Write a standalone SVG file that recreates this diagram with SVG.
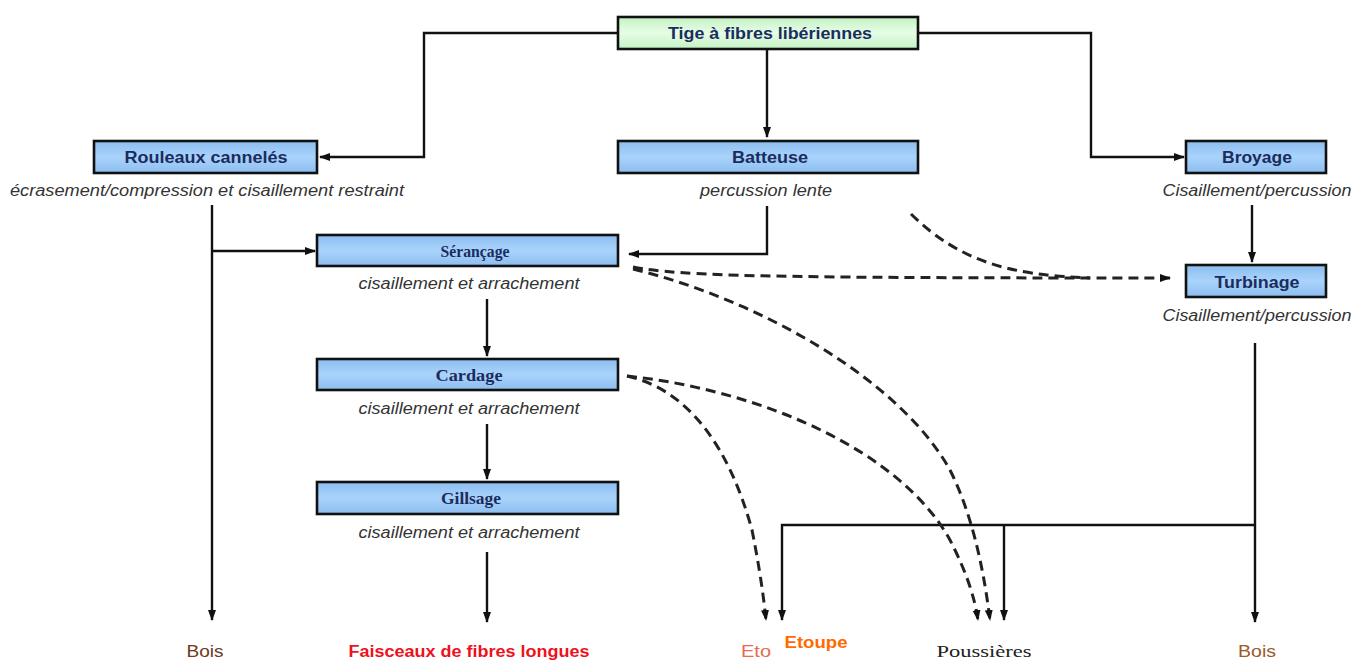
<svg xmlns="http://www.w3.org/2000/svg" width="1365" height="661" viewBox="0 0 1365 661">
<style>
.box{fill:url(#blue);stroke:#111;stroke-width:2.6}
.gbox{fill:url(#green);stroke:#111;stroke-width:2.6}
.lbl{font-family:"Liberation Sans",Arial,sans-serif;font-weight:bold;font-size:16px;fill:#1b2c5e;text-anchor:middle}
.slbl{font-family:"Liberation Serif","Times New Roman",serif;font-weight:bold;font-size:17px;fill:#1b2c5e;text-anchor:middle}
.sub{font-family:"Liberation Sans",Arial,sans-serif;font-style:italic;font-size:16px;fill:#333;text-anchor:middle}
.ln{fill:none;stroke:#111;stroke-width:2.4}
.ds{fill:none;stroke:#222;stroke-width:3;stroke-dasharray:10 6}
.out{font-family:"Liberation Sans",Arial,sans-serif;font-size:16px;text-anchor:middle}
</style>
<defs>
<linearGradient id="blue" x1="0" y1="0" x2="0" y2="1">
<stop offset="0" stop-color="#8cbdf0"/><stop offset="0.5" stop-color="#a9d3fb"/><stop offset="1" stop-color="#8cbdf0"/>
</linearGradient>
<linearGradient id="green" x1="0" y1="0" x2="0" y2="1">
<stop offset="0" stop-color="#c4f2c4"/><stop offset="0.5" stop-color="#e6fde6"/><stop offset="1" stop-color="#c4f2c4"/>
</linearGradient>
<marker id="ah" markerWidth="11" markerHeight="10" refX="10" refY="5" orient="auto" markerUnits="userSpaceOnUse">
<path d="M0,1 L11,5 L0,9 z" fill="#111"/>
</marker>
</defs>
<rect width="1365" height="661" fill="#fff"/>

<g id="connectors">
<polyline class="ln" points="618,33 424,33 424,157 320,157" marker-end="url(#ah)"/>
<line class="ln" x1="767" y1="49" x2="767" y2="137" marker-end="url(#ah)"/>
<polyline class="ln" points="918,33 1091,33 1091,157 1184,157" marker-end="url(#ah)"/>
<polyline class="ln" points="767,206 767,254 629,254" marker-end="url(#ah)"/>
<line class="ln" x1="212" y1="205" x2="212" y2="620" marker-end="url(#ah)"/>
<line class="ln" x1="212" y1="251" x2="315" y2="251" marker-end="url(#ah)"/>
<line class="ln" x1="1252" y1="205" x2="1252" y2="262" marker-end="url(#ah)"/>
<line class="ln" x1="487" y1="299" x2="487" y2="356" marker-end="url(#ah)"/>
<line class="ln" x1="487" y1="424" x2="487" y2="479" marker-end="url(#ah)"/>
<line class="ln" x1="487" y1="552" x2="487" y2="622" marker-end="url(#ah)"/>
<line class="ln" x1="1255" y1="343" x2="1255" y2="622" marker-end="url(#ah)"/>
<polyline class="ln" points="1255,525 782,525 782,620" marker-end="url(#ah)"/>
<line class="ln" x1="1004" y1="525" x2="1004" y2="620" marker-end="url(#ah)"/>
<path class="ds" d="M633,267 C680,276 760,278 1170,278" marker-end="url(#ah)"/>
<path class="ds" d="M911,214 C960,262 1010,275 1090,278"/>
<path class="ds" d="M633,269 C760,300 900,380 950,470 C975,520 985,580 990,620" marker-end="url(#ah)"/>
<path class="ds" d="M627,376 C690,390 730,450 752,530 C760,570 764,600 766,620" marker-end="url(#ah)"/>
<path class="ds" d="M627,376 C760,390 900,450 950,540 C968,575 975,600 978,620" marker-end="url(#ah)"/>
</g>

<g id="n-tige"><rect class="gbox" x="618" y="17" width="300" height="32"/><text class="lbl" x="770" y="39" textLength="204" lengthAdjust="spacingAndGlyphs">Tige à fibres libériennes</text></g>
<g id="n-rouleaux"><rect class="box" x="94" y="141" width="223" height="32"/><text class="lbl" x="206" y="163" textLength="163" lengthAdjust="spacingAndGlyphs">Rouleaux cannelés</text>
<text class="sub" x="207" y="196" textLength="394" lengthAdjust="spacingAndGlyphs">écrasement/compression et cisaillement restraint</text></g>
<g id="n-batteuse"><rect class="box" x="618" y="141" width="300" height="32"/><text class="lbl" x="770" y="163" textLength="76" lengthAdjust="spacingAndGlyphs">Batteuse</text>
<text class="sub" x="766" y="196" textLength="132" lengthAdjust="spacingAndGlyphs">percussion lente</text></g>
<g id="n-broyage"><rect class="box" x="1186" y="141" width="140" height="32"/><text class="lbl" x="1257" y="163" textLength="70" lengthAdjust="spacingAndGlyphs">Broyage</text>
<text class="sub" x="1257" y="196" textLength="189" lengthAdjust="spacingAndGlyphs">Cisaillement/percussion</text></g>
<g id="n-turbinage"><rect class="box" x="1186" y="265" width="140" height="32"/><text class="lbl" x="1257" y="288" textLength="85" lengthAdjust="spacingAndGlyphs">Turbinage</text>
<text class="sub" x="1257" y="321" textLength="189" lengthAdjust="spacingAndGlyphs">Cisaillement/percussion</text></g>
<g id="n-serancage"><rect class="box" x="317" y="235" width="301" height="31"/><text class="slbl" x="475" y="257" textLength="69" lengthAdjust="spacingAndGlyphs">Sérançage</text>
<text class="sub" x="469" y="289" textLength="221" lengthAdjust="spacingAndGlyphs">cisaillement et arrachement</text></g>
<g id="n-cardage"><rect class="box" x="317" y="359" width="301" height="31"/><text class="slbl" x="469" y="381" textLength="67" lengthAdjust="spacingAndGlyphs">Cardage</text>
<text class="sub" x="469" y="414" textLength="221" lengthAdjust="spacingAndGlyphs">cisaillement et arrachement</text></g>
<g id="n-gillsage"><rect class="box" x="317" y="482" width="301" height="32"/><text class="slbl" x="471" y="504" textLength="60" lengthAdjust="spacingAndGlyphs">Gillsage</text>
<text class="sub" x="469" y="538" textLength="221" lengthAdjust="spacingAndGlyphs">cisaillement et arrachement</text></g>

<g id="outputs">
<text class="out" x="205" y="657" fill="#6b3a20" textLength="37" lengthAdjust="spacingAndGlyphs">Bois</text>
<text class="out" x="469" y="657" fill="#ee1122" font-weight="bold" textLength="241" lengthAdjust="spacingAndGlyphs">Faisceaux de fibres longues</text>
<text class="out" x="756" y="657" fill="#e86a50" textLength="30" lengthAdjust="spacingAndGlyphs">Eto</text>
<text class="out" x="816" y="648" fill="#ff6a00" font-weight="bold" font-size="17" textLength="63" lengthAdjust="spacingAndGlyphs">Etoupe</text>
<text x="984" y="657" fill="#222" font-family="Liberation Serif,serif" font-size="17" text-anchor="middle" textLength="95" lengthAdjust="spacingAndGlyphs">Poussières</text>
<text class="out" x="1257" y="657" fill="#9a5a2a" textLength="38" lengthAdjust="spacingAndGlyphs">Bois</text>
</g>
</svg>
